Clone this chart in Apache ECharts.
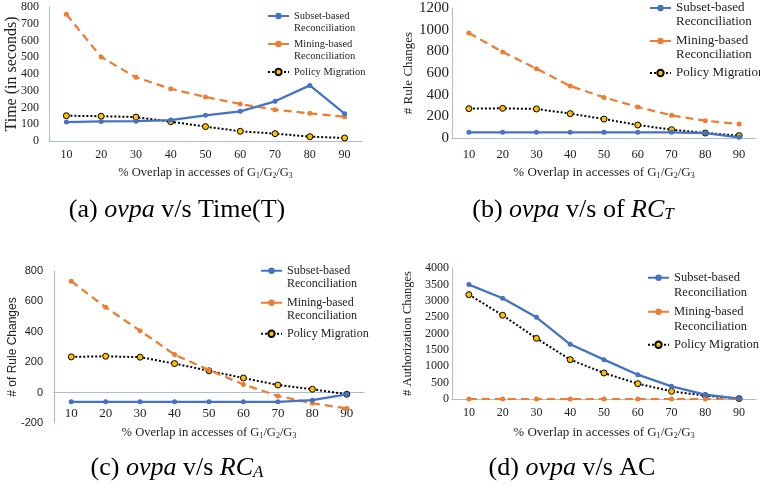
<!DOCTYPE html>
<html lang="en">
<head>
    <meta charset="UTF-8">
    <title>ovpa charts</title>
    <script src="https://cdn.jsdelivr.net/npm/echarts@6/dist/echarts.min.js"></script>
    <style>
        html, body { margin: 0; padding: 0; background: #fff; }
        #main { width: 760px; height: 491px; }
    </style>
</head>
<body>
<div id="main"></div>
<script>
    // x categories (% overlap)
    let categories = ['10', '20', '30', '40', '50', '60', '70', '80', '90'];
    let seriesNames = ['Subset-based Reconciliation', 'Mining-based Reconciliation', 'Policy Migration'];

    // (a) time in seconds
    let timeSubset = [113, 117, 118, 125, 153, 177, 237, 332, 163];
    let timeMining = [756, 501, 380, 312, 263, 221, 187, 165, 145];
    let timePolicy = [151, 148, 143, 115, 86, 58, 44, 26, 18];
    // (b) rule changes RC_T
    let rctSubset = [52, 52, 52, 52, 52, 52, 52, 46, 6];
    let rctMining = [969, 794, 640, 480, 375, 286, 209, 160, 129];
    let rctPolicy = [271, 274, 268, 225, 175, 120, 77, 46, 22];
    // (c) rule changes RC_A
    let rcaSubset = [-61, -61, -61, -61, -61, -61, -61, -50, -11];
    let rcaMining = [733, 561, 407, 250, 148, 54, -22, -70, -104];
    let rcaPolicy = [235, 239, 233, 191, 143, 96, 50, 22, -11];
    // (d) authorization changes
    let acSubset = [3493, 3075, 2495, 1670, 1202, 743, 387, 132, 10];
    let acMining = [0, 0, 0, 0, 0, 0, 0, 0, 0];
    let acPolicy = [3187, 2556, 1853, 1202, 794, 468, 234, 102, 10];

    const SERIF = 'Liberation Serif';
    const SANS = 'Liberation Sans';
    const AXIS_COLOR = '#a9bcdd';
    const TEXT = '#222';

    let xName = '% Overlap in accesses of G{s|1}/G{s|2}/G{s|3}';
    function subRich(size) {
        return { s: { fontSize: size * 0.62, fontFamily: SERIF, color: TEXT, padding: [size * 0.45, 0, 0, 0] } };
    }

    let panels = [
        { grid: { left: 49, right: 398, top: 7, bottom: 350 }, max: 800, interval: 100, min: 0, xOffset: 0,
          yName: 'Time (in seconds)', yFont: SERIF, yNameSize: 16, yNameGap: 29, yLabelSize: 12, yMargin: 10,
          xLabelSize: 12, xMargin: 8, xNameGap: 25, xNameSize: 12.5,
          data: [timeSubset, timeMining, timePolicy],
          legend: { left: 267, fs: 10.5, lh: 12, rows: [15, 43, 71] } },
        { grid: { left: 452, right: 4, top: 8, bottom: 353 }, max: 1200, interval: 200, min: 0, xOffset: 0,
          yName: '# Rule Changes', yFont: SERIF, yNameSize: 13, yNameGap: 37, yLabelSize: 15, yMargin: 3,
          xLabelSize: 12.5, xMargin: 10, xNameGap: 28, xNameSize: 13,
          data: [rctSubset, rctMining, rctPolicy],
          legend: { left: 649, fs: 13, lh: 14, rows: [7, 40, 72] } },
        { grid: { left: 54, right: 396, top: 271, bottom: 68 }, max: 800, interval: 200, min: -200, xOffset: -30.4,
          yName: '# of Rule Changes', yFont: SANS, yNameSize: 12, yNameGap: 35, yLabelSize: 11, yMargin: 11,
          xLabelSize: 13, xMargin: 14, xNameGap: null, xNameSize: 12.5,
          data: [rcaSubset, rcaMining, rcaPolicy],
          legend: { left: 260, fs: 12, lh: 13.5, rows: [270, 302, 333] } },
        { grid: { left: 452, right: 4, top: 268, bottom: 92 }, max: 4000, interval: 500, min: 0, xOffset: 0,
          yName: '# Authorization Changes', yFont: SERIF, yNameSize: 12.5, yNameGap: 38, yLabelSize: 12, yMargin: 3,
          xLabelSize: 12, xMargin: 8, xNameGap: 27, xNameSize: 13,
          data: [acSubset, acMining, acPolicy],
          legend: { left: 647, fs: 12.5, lh: 14.5, rows: [277, 311, 344] } }
    ];

    let grids = [], xAxes = [], yAxes = [], series = [], legends = [];
    let styles = [
        { color: '#4472c4', line: { color: '#4472c4', width: 2.25, type: 'solid' }, size: 5, border: '#4472c4' },
        { color: '#ed7d31', line: { color: '#ed7d31', width: 2.25, type: [8, 5] }, size: 5, border: '#ed7d31' },
        { color: '#ffc000', line: { color: '#000000', width: 2, type: [2, 2] }, size: 6, border: '#000000' }
    ];

    panels.forEach(function (p, i) {
        grids.push(Object.assign({ outerBoundsMode: 'none', containLabel: false }, p.grid));
        xAxes.push({
            type: 'category', gridIndex: i, data: categories, boundaryGap: true,
            offset: p.xOffset,
            name: p.xNameGap === null ? '' : xName,
            nameLocation: 'middle', nameGap: p.xNameGap || 0, nameMoveOverlap: false,
            nameTextStyle: { fontFamily: SERIF, fontSize: p.xNameSize, color: TEXT, rich: subRich(p.xNameSize) },
            axisLine: { show: true, onZero: false, lineStyle: { color: AXIS_COLOR, width: 1 } },
            axisTick: { show: false },
            axisLabel: { fontFamily: SERIF, fontSize: p.xLabelSize, color: TEXT, margin: p.xMargin, interval: 0 },
            splitLine: { show: false }
        });
        yAxes.push({
            type: 'value', gridIndex: i, min: p.min, max: p.max, interval: p.interval,
            name: p.yName, nameLocation: 'middle', nameGap: p.yNameGap, nameMoveOverlap: false,
            nameTextStyle: { fontFamily: p.yFont, fontSize: p.yNameSize, color: TEXT },
            axisLine: { show: true, lineStyle: { color: AXIS_COLOR, width: 1 } },
            axisTick: { show: false },
            axisLabel: {
                fontFamily: p.yFont, fontSize: p.yLabelSize, color: TEXT, margin: p.yMargin,
                formatter: function (v) { return String(v); }
            },
            splitLine: { show: false }
        });
        p.data.forEach(function (values, k) {
            let st = styles[k];
            series.push({
                name: seriesNames[k], type: 'line', xAxisIndex: i, yAxisIndex: i,
                data: values, symbol: 'circle', symbolSize: st.size,
                itemStyle: { color: st.color, borderColor: st.border, borderWidth: k === 2 ? 1 : 0 },
                lineStyle: st.line,
                z: 5 - k,
                animation: false
            });
            let L = p.legend;
            let twoLines = k < 2;
            // first text line sits on the icon row
            legends.push({
                data: [seriesNames[k]],
                left: L.left, top: (twoLines ? L.rows[k] - 1.5 * L.lh : L.rows[k] - L.lh / 2) + 1.5,
                orient: 'vertical', padding: 0,
                itemWidth: 21, itemHeight: 8, selectedMode: false,
                formatter: function (name) {
                    if (name.indexOf(' Reconciliation') < 0) return '{t|' + name + '}';
                    return '{e| }\n{t|' + name.replace(' Reconciliation', '}\n{t|Reconciliation}');
                },
                textStyle: {
                    fontFamily: SERIF, fontSize: L.fs, color: TEXT,
                    rich: {
                        e: { fontFamily: SERIF, fontSize: L.fs, lineHeight: L.lh },
                        t: { fontFamily: SERIF, fontSize: L.fs, lineHeight: L.lh, color: TEXT }
                    }
                }
            });
        });
    });

    const CAP = 26;
    function caption(x, y, text, rich) {
        return {
            type: 'text', x: x, y: y,
            style: {
                text: text, fontFamily: SERIF, fontSize: CAP, fill: '#000',
                align: 'center', verticalAlign: 'middle', rich: rich
            }
        };
    }
    let capRich = {
        n: { fontFamily: SERIF, fontSize: CAP, color: '#000' },
        i: { fontFamily: SERIF, fontSize: CAP, fontStyle: 'italic', color: '#000' },
        sub: { fontFamily: SERIF, fontSize: 17, fontStyle: 'italic', color: '#000', padding: [10, 0, 0, 0] }
    };
    let graphics = [
        caption(177, 210, '{n|(a) }{i|ovpa}{n| v/s Time(T)}', capRich),
        caption(573, 210, '{n|(b) }{i|ovpa}{n| v/s of }{i|RC}{sub|T}', capRich),
        caption(177, 468, '{n|(c) }{i|ovpa}{n| v/s }{i|RC}{sub|A}', capRich),
        caption(572, 468, '{n|(d) }{i|ovpa}{n| v/s AC}', capRich),
        {
            type: 'text', x: 209, y: 433,
            style: {
                text: '{n|% Overlap in accesses of G}{s|1}{n|/G}{s|2}{n|/G}{s|3}',
                align: 'center', verticalAlign: 'middle', fill: TEXT,
                rich: {
                    n: { fontFamily: SERIF, fontSize: 12.5, color: TEXT },
                    s: { fontFamily: SERIF, fontSize: 8, color: TEXT, padding: [6, 0, 0, 0] }
                }
            }
        }
    ];

    let myChart = echarts.init(document.getElementById('main'), null, { renderer: 'canvas' });
    let option = {
        backgroundColor: '#ffffff',
        animation: false,
        grid: grids,
        xAxis: xAxes,
        yAxis: yAxes,
        legend: legends,
        series: series,
        graphic: graphics
    };
    myChart.setOption(option);
</script>
</body>
</html>
